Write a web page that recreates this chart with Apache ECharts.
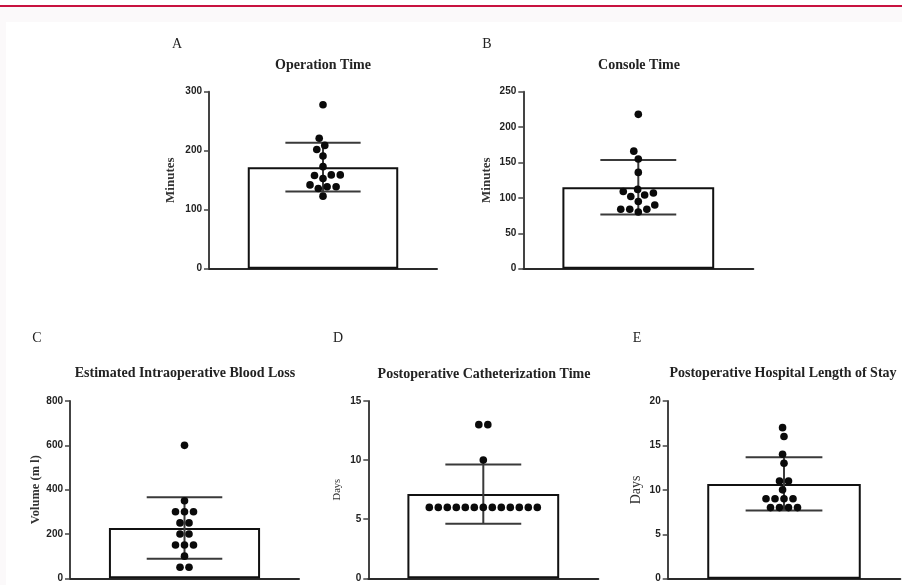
<!DOCTYPE html>
<html>
<head>
<meta charset="utf-8">
<script src="https://cdn.jsdelivr.net/npm/echarts@6/dist/echarts.min.js"></script>
<style>
html,body{margin:0;padding:0;background:#fff;}
#chart{width:902px;height:585px;}
</style>
</head>
<body>
<div id="chart"></div>
<script>
// ---- data ----
const panelLetters = ['A', 'B', 'C', 'D', 'E'];
const panelTitles = ['Operation Time', 'Console Time', 'Estimated Intraoperative Blood Loss',
  'Postoperative Catheterization Time', 'Postoperative Hospital Length of Stay'];
const axisNames = ['Minutes', 'Minutes', 'Volume (m l)', 'Days', 'Days'];
const axisMax = [300, 250, 800, 15, 20];
const axisInterval = [100, 50, 200, 5, 5];

const operationTime = [278, 221, 209, 202, 191, 173, 159, 153, 158, 159, 139, 142, 136, 139, 123];
const consoleTime = [218, 166, 155, 136, 109, 104, 102, 107, 112, 90, 95, 84, 80, 84, 84];
const bloodLoss = [600, 350, 300, 300, 300, 250, 250, 200, 200, 150, 150, 150, 100, 50, 50];
const catheterDays = [13, 13, 10, 6, 6, 6, 6, 6, 6, 6, 6, 6, 6, 6, 6, 6];
const stayDays = [17, 16, 14, 13, 11, 11, 10, 9, 9, 9, 9, 8, 8, 8, 8];

const seriesValues = [operationTime, consoleTime, bloodLoss, catheterDays, stayDays];

// ---- layout (styling only) ----
const grids = [
  {left: 209, top: 91.7, width: 228, height: 177},
  {left: 523.3, top: 91.7, width: 230, height: 177},
  {left: 70, top: 401, width: 229, height: 177.3},
  {left: 368.3, top: 401, width: 230, height: 177.3},
  {left: 667.7, top: 401, width: 232.6, height: 177.7}
];
const titlePos = [[323, 65], [639, 65], [185, 373], [484, 374], [783, 373]];
const letterPos = [[177, 44], [487, 44], [37, 338], [338, 338], [637, 338]];
const nameSize = [13, 13, 12.5, 10.5, 14];
const nameWeight = ['bold', 'bold', 'bold', 'normal', 'normal'];
const nameGap = [32, 30, 27, 26, 24];
const DOT = 9;

function meanSd(a) {
  const m = a.reduce((s, v) => s + v, 0) / a.length;
  const v = a.reduce((s, x) => s + (x - m) * (x - m), 0) / (a.length - 1);
  return [m, Math.sqrt(v)];
}

// simple beeswarm layout: horizontal offsets in pixels
function swarm(vals, pxPerUnit, d) {
  const order = vals.map((v, i) => i).sort((a, b) => vals[a] - vals[b]);
  const placed = [];
  const xs = new Array(vals.length);
  const free = (x, y) => placed.every(p => Math.hypot(p.x - x, p.y - y) >= d - 0.01);
  function bestX(y) {
    const c = [0];
    placed.forEach(p => {
      const dy = Math.abs(p.y - y);
      if (dy < d) { const dx = Math.sqrt(d * d - dy * dy); c.push(p.x + dx, p.x - dx); }
    });
    c.sort((a, b) => Math.abs(a) - Math.abs(b) || a - b);
    for (const x of c) if (free(x, y)) return x;
    return 0;
  }
  let i = 0;
  while (i < order.length) {
    let j = i;
    while (j < order.length && vals[order[j]] === vals[order[i]]) j++;
    const grp = order.slice(i, j), n = grp.length;
    const y = vals[grp[0]] * pxPerUnit;
    const cen = grp.map((_, k) => (k - (n - 1) / 2) * d);
    if (cen.every(x => free(x, y))) {
      grp.forEach((idx, k) => { xs[idx] = cen[k]; placed.push({x: cen[k], y}); });
    } else {
      grp.forEach(idx => { const x = bestX(y); xs[idx] = x; placed.push({x, y}); });
    }
    i = j;
  }
  return xs;
}

const gridOpt = [], xAxes = [], yAxes = [], series = [], graphics = [];

graphics.push({type: 'rect', shape: {x: 0, y: 6, width: 902, height: 585}, style: {fill: '#fbf9fa'}, z: -10});
graphics.push({type: 'rect', shape: {x: 6, y: 22, width: 902, height: 585}, style: {fill: '#ffffff'}, z: -9});
graphics.push({type: 'rect', shape: {x: 0, y: 5, width: 902, height: 2}, style: {fill: '#c8123f'}, z: -8});

seriesValues.forEach((vals, p) => {
  const g = grids[p];
  gridOpt.push({left: g.left, top: g.top, width: g.width, height: g.height});
  xAxes.push({
    type: 'category', gridIndex: p, data: [''], boundaryGap: true,
    axisLine: {onZero: false, lineStyle: {color: '#2a2a2a', width: 2}},
    axisTick: {alignWithLabel: true, length: 5, lineStyle: {color: '#555', width: 1}},
    axisLabel: {show: false}
  });
  xAxes.push({
    type: 'value', gridIndex: p, min: -g.width / 2, max: g.width / 2, show: false
  });
  yAxes.push({
    type: 'value', gridIndex: p, min: 0, max: axisMax[p], interval: axisInterval[p],
    name: axisNames[p], nameLocation: 'middle', nameGap: nameGap[p], nameRotate: 90,
    nameTextStyle: {fontFamily: 'Liberation Serif', fontWeight: nameWeight[p], fontSize: nameSize[p], color: '#333'},
    axisLine: {show: true, onZero: false, lineStyle: {color: '#444', width: 2}},
    axisTick: {show: true, length: 5, lineStyle: {color: '#444', width: 1.5}},
    axisLabel: {margin: 7, fontFamily: 'Liberation Sans', fontWeight: 'bold', fontSize: 10, color: '#222'},
    splitLine: {show: false}
  });
  const [m, sd] = meanSd(vals);
  series.push({
    type: 'bar', xAxisIndex: 2 * p, yAxisIndex: p, data: [m], barWidth: '66%',
    itemStyle: {color: '#ffffff', borderColor: '#111', borderWidth: 2}, z: 2, silent: true
  });
  series.push({
    type: 'custom', xAxisIndex: 2 * p, yAxisIndex: p, data: [[0, m, sd]], z: 3,
    renderItem: function (params, api) {
      const x = api.value(0), mean = api.value(1), s = api.value(2);
      const t = api.coord([x, mean + s]), b = api.coord([x, mean - s]);
      const half = api.size([1, 0])[0] * 0.165;
      const st = {stroke: '#3a3a3a', lineWidth: 2};
      return {type: 'group', children: [
        {type: 'line', shape: {x1: t[0], y1: t[1], x2: b[0], y2: b[1]}, style: st},
        {type: 'line', shape: {x1: t[0] - half, y1: t[1], x2: t[0] + half, y2: t[1]}, style: st},
        {type: 'line', shape: {x1: b[0] - half, y1: b[1], x2: b[0] + half, y2: b[1]}, style: st}
      ]};
    }
  });
  const xs = swarm(vals, g.height / axisMax[p], DOT);
  series.push({
    type: 'scatter', xAxisIndex: 2 * p + 1, yAxisIndex: p,
    data: vals.map((v, i) => [xs[i], v]), symbolSize: 7.6,
    itemStyle: {color: '#0a0a0a', opacity: 1}, z: 4, silent: true
  });
  graphics.push({type: 'text', x: titlePos[p][0], y: titlePos[p][1],
    style: {text: panelTitles[p], fontFamily: 'Liberation Serif', fontWeight: 'bold', fontSize: 14,
      fill: '#222', align: 'center', verticalAlign: 'middle'}});
  graphics.push({type: 'text', x: letterPos[p][0], y: letterPos[p][1],
    style: {text: panelLetters[p], fontFamily: 'Liberation Serif', fontSize: 14,
      fill: '#222', align: 'center', verticalAlign: 'middle'}});
});

const chart = echarts.init(document.getElementById('chart'), null, {renderer: 'canvas'});
chart.setOption({
  animation: false,
  backgroundColor: '#ffffff',
  grid: gridOpt, xAxis: xAxes, yAxis: yAxes, series: series, graphic: graphics
});
</script>
</body>
</html>
